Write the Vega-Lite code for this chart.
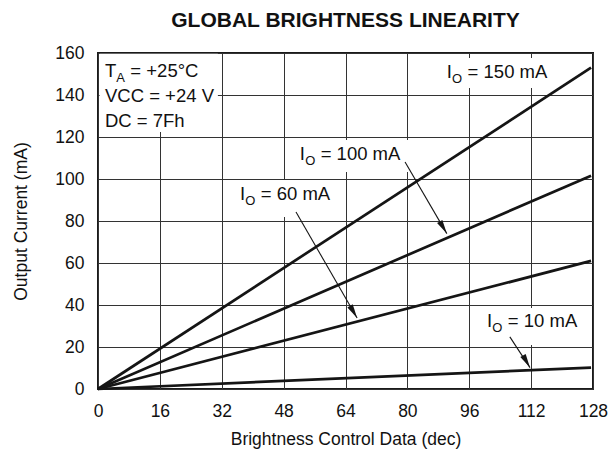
{
  "$schema": "https://vega.github.io/schema/vega-lite/v6.json",
  "width": 495,
  "height": 336,
  "autosize": {"type": "none"},
  "padding": {"left": 98, "top": 53, "right": 19, "bottom": 65},
  "background": "white",
  "config": {
    "font": "Liberation Sans",
    "view": {"stroke": "#1a1a1a", "strokeWidth": 2},
    "axis": {
      "grid": true,
      "gridColor": "#333333",
      "gridWidth": 1,
      "gridOpacity": 1,
      "ticks": false,
      "domain": false,
      "labelFontSize": 17.5,
      "labelColor": "#111111",
      "labelFlush": false,
      "labelOverlap": false,
      "titleFontSize": 17.5,
      "titleFontWeight": "normal",
      "titleColor": "#111111"
    }
  },
  "title": {
    "text": "GLOBAL BRIGHTNESS LINEARITY",
    "fontSize": 21,
    "fontWeight": "bold",
    "color": "#111111",
    "anchor": "middle",
    "offset": 13
  },
  "datasets": {
    "lines": [
      {"series": "150 mA", "x": 0, "y": 0},
      {"series": "150 mA", "x": 127.5, "y": 153},
      {"series": "100 mA", "x": 0, "y": 0},
      {"series": "100 mA", "x": 127.5, "y": 101.6},
      {"series": "60 mA", "x": 0, "y": 0},
      {"series": "60 mA", "x": 127.5, "y": 61},
      {"series": "10 mA", "x": 0, "y": 0},
      {"series": "10 mA", "x": 127.5, "y": 10.2}
    ],
    "boxes": [
      {"x": 0.4, "x2": 31, "y": 122.4, "y2": 159.6},
      {"x": 88.4, "x2": 117.4, "y": 143.3, "y2": 157.6},
      {"x": 50.4, "x2": 80.2, "y": 103.3, "y2": 118.6},
      {"x": 34.6, "x2": 62.1, "y": 81.9, "y2": 99.5},
      {"x": 98.8, "x2": 125.2, "y": 21.0, "y2": 38.6}
    ],
    "arrows": [
      {"label": "100 mA", "x": 90.2, "y": 74.0, "x0": 79.4, "y0": 108.1},
      {"label": "60 mA", "x": 67.0, "y": 33.8, "x0": 51.2, "y0": 84.3},
      {"label": "10 mA", "x": 111.7, "y": 10.2, "x0": 106.5, "y0": 24.8}
    ],
    "labels": [
      {"label": "150 mA", "x": 90.2, "y": 148.1, "rest": "= 150 mA"},
      {"label": "100 mA", "x": 52.2, "y": 109.0, "rest": "= 100 mA"},
      {"label": "60 mA", "x": 36.7, "y": 90.0, "rest": "= 60 mA"},
      {"label": "10 mA", "x": 100.6, "y": 29.5, "rest": "= 10 mA"}
    ],
    "notes": [
      {"x": 1.8, "y": 148.6, "main": "T", "sub": "A", "rest": "= +25°C"},
      {"x": 1.8, "y": 136.7, "main": "VCC = +24 V", "sub": "", "rest": ""},
      {"x": 1.8, "y": 124.8, "main": "DC = 7Fh", "sub": "", "rest": ""}
    ]
  },
  "encoding": {
    "x": {
      "field": "x",
      "type": "quantitative",
      "scale": {"domain": [0, 128], "nice": false, "zero": false},
      "axis": {
        "values": [0, 16, 32, 48, 64, 80, 96, 112, 128],
        "title": "Brightness Control Data (dec)",
        "labelPadding": 13,
        "titlePadding": 11
      }
    },
    "y": {
      "field": "y",
      "type": "quantitative",
      "scale": {"domain": [0, 160], "nice": false, "zero": false},
      "axis": {
        "values": [0, 20, 40, 60, 80, 100, 120, 140, 160],
        "title": "Output Current (mA)",
        "labelPadding": 14,
        "titlePadding": 24
      }
    }
  },
  "layer": [
    {
      "data": {"name": "boxes"},
      "mark": {"type": "rect", "fill": "white", "stroke": null},
      "encoding": {
        "x2": {"field": "x2"},
        "y2": {"field": "y2"}
      }
    },
    {
      "data": {"name": "lines"},
      "mark": {"type": "line", "color": "#151515", "strokeWidth": 2.7},
      "encoding": {
        "detail": {"field": "series", "type": "nominal"},
        "order": {"field": "x", "type": "quantitative"}
      }
    },
    {
      "data": {"name": "arrows"},
      "mark": {"type": "rule", "color": "#151515", "strokeWidth": 1.1},
      "encoding": {
        "x2": {"field": "x0"},
        "y2": {"field": "y0"}
      }
    },
    {
      "data": {"name": "arrows"},
      "mark": {
        "type": "point",
        "shape": "M0,0L-0.22,1L0.22,1Z",
        "filled": true,
        "size": 784,
        "color": "#151515",
        "opacity": 1
      },
      "encoding": {
        "angle": {
          "field": "label",
          "type": "nominal",
          "scale": {"domain": ["100 mA", "60 mA", "10 mA"], "range": [149.4, 150.1, 147.2]},
          "legend": null
        }
      }
    },
    {
      "data": {"name": "labels"},
      "mark": {"type": "text", "align": "left", "baseline": "alphabetic", "fontSize": 18.5, "color": "#111111"},
      "encoding": {"text": {"value": "I"}}
    },
    {
      "data": {"name": "labels"},
      "mark": {"type": "text", "align": "left", "baseline": "alphabetic", "fontSize": 13, "dx": 5.3, "dy": 5, "color": "#111111"},
      "encoding": {"text": {"value": "O"}}
    },
    {
      "data": {"name": "labels"},
      "mark": {"type": "text", "align": "left", "baseline": "alphabetic", "fontSize": 18.5, "dx": 20.8, "color": "#111111"},
      "encoding": {"text": {"field": "rest"}}
    },
    {
      "data": {"name": "notes"},
      "mark": {"type": "text", "align": "left", "baseline": "alphabetic", "fontSize": 18.5, "color": "#111111"},
      "encoding": {"text": {"field": "main"}}
    },
    {
      "data": {"name": "notes"},
      "mark": {"type": "text", "align": "left", "baseline": "alphabetic", "fontSize": 13, "dx": 11.3, "dy": 5, "color": "#111111"},
      "encoding": {"text": {"field": "sub"}}
    },
    {
      "data": {"name": "notes"},
      "mark": {"type": "text", "align": "left", "baseline": "alphabetic", "fontSize": 18.5, "dx": 25.4, "color": "#111111"},
      "encoding": {"text": {"field": "rest"}}
    }
  ]
}
